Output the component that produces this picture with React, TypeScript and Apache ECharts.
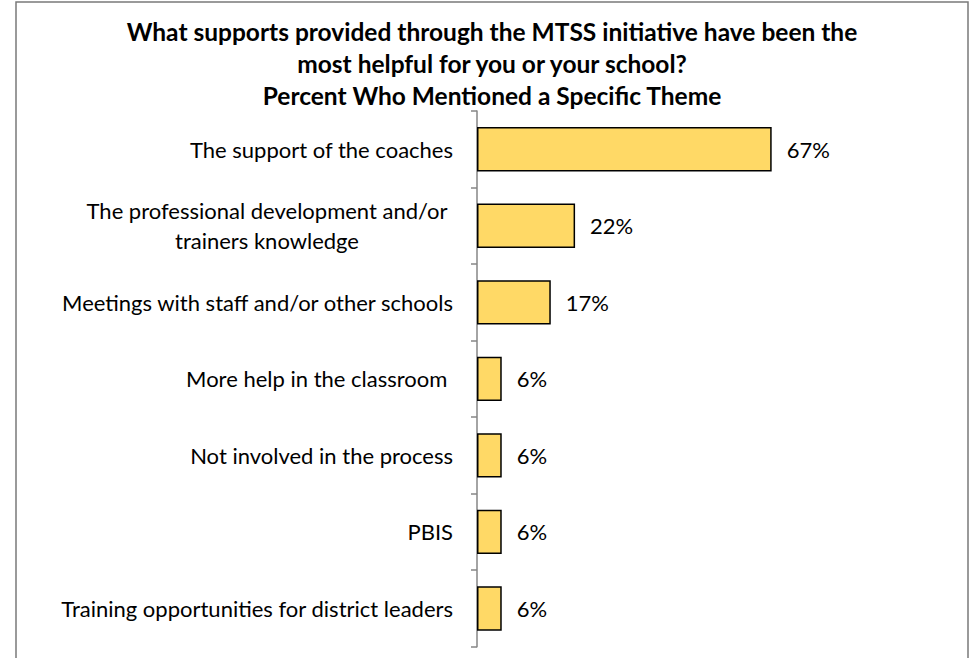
import React, { useEffect, useRef } from "react";
import * as echarts from "echarts";

const titleLines = [
  "What supports provided through the MTSS initiative have been the",
  "most helpful for you or your school?",
  "Percent Who Mentioned a Specific Theme",
];

const categories = [
  "The support of the coaches",
  "The professional development and/or\ntrainers knowledge",
  "Meetings with staff and/or other schools",
  "More help in the classroom ",
  "Not involved in the process",
  "PBIS",
  "Training opportunities for district leaders",
];

const values = [66.7, 22.2, 16.7, 5.6, 5.6, 5.6, 5.6];

const FONT = "Lato";

export default function App() {
  const ref = useRef<HTMLDivElement>(null);
  useEffect(() => {
    if (!ref.current) return;
    const chart = echarts.init(ref.current, null, { renderer: "svg" });
    chart.setOption({
      animation: false,
      backgroundColor: "#ffffff",
      title: {
        text: titleLines.join("\n"),
        left: 492,
        top: 15,
        padding: 0,
        textAlign: "center",
        textStyle: {
          fontFamily: FONT,
          fontWeight: "bold",
          fontSize: 24.5,
          lineHeight: 32,
          color: "#000000",
        },
      },
      graphic: [
        {
          type: "rect",
          shape: { x: 16, y: 2, width: 952, height: 720 },
          style: { fill: "none", stroke: "#7a7a7a", lineWidth: 1.5 },
          silent: true,
          z: -1,
        },
      ],
      grid: {
        left: 477,
        top: 111,
        width: 441.8,
        height: 535.7,
        containLabel: false,
      },
      xAxis: {
        type: "value",
        min: 0,
        max: 100,
        show: false,
      },
      yAxis: {
        type: "category",
        data: categories,
        inverse: true,
        axisLine: { show: true, lineStyle: { color: "#868686", width: 1.5 } },
        axisTick: { show: true, length: 6, lineStyle: { color: "#868686", width: 1.5 } },
        axisLabel: {
          margin: 24,
          fontFamily: FONT,
          fontSize: 22,
          color: "#000000",
          lineHeight: 30,
          formatter: (v: string) => {
            if (v.indexOf("\n") >= 0) {
              return v
                .split("\n")
                .map((l) => "{c|" + l + "}")
                .join("\n");
            }
            return v;
          },
          rich: {
            c: {
              width: 372,
              align: "center",
              fontFamily: FONT,
              fontSize: 22,
              lineHeight: 30,
              color: "#000000",
            },
          },
        },
        splitLine: { show: false },
      },
      series: [
        {
          type: "bar",
          data: values,
          barCategoryGap: "42%",
          itemStyle: {
            color: "#FFD966",
            borderColor: "#000000",
            borderWidth: 1.5,
          },
          label: {
            show: true,
            position: "right",
            distance: 15,
            fontFamily: FONT,
            fontSize: 22,
            color: "#000000",
            formatter: (p: any) => Math.round(p.value) + "%",
          },
        },
      ],
    });
    return () => chart.dispose();
  }, []);
  return (
    <div
      ref={ref}
      style={{ position: "fixed", left: 0, top: 0, width: 970, height: 658 }}
    />
  );
}
